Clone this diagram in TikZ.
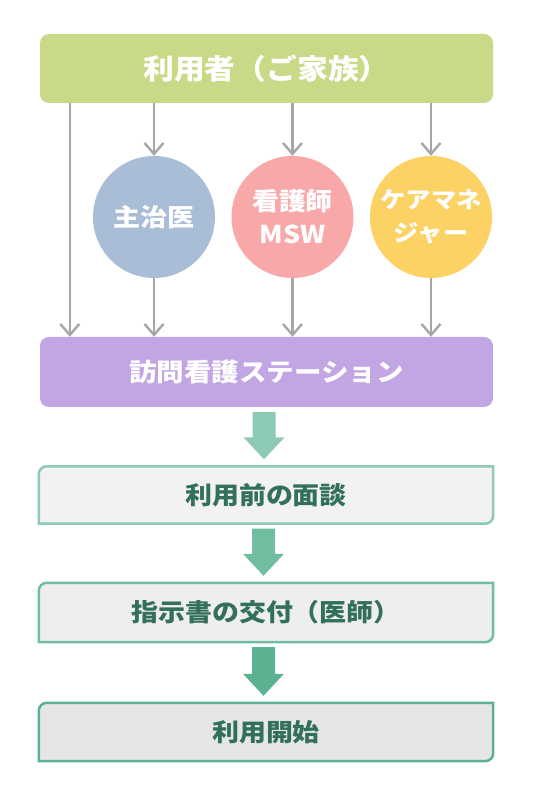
\documentclass[tikz,border=0pt]{standalone}
\usepackage{fontspec}
\setmainfont{Noto Sans CJK JP}[FakeStretch=1.1]
\usetikzlibrary{arrows.meta}
\usetikzlibrary{positioning}
\usetikzlibrary{calc}
\usetikzlibrary{backgrounds}

\definecolor{usergreen}{HTML}{C8DA88}
\definecolor{stationpurple}{HTML}{C2A5E3}
\definecolor{doctorblue}{HTML}{A9BDD7}
\definecolor{nursepink}{HTML}{F9A8AA}
\definecolor{careyellow}{HTML}{FCD265}
\definecolor{linkgray}{HTML}{A6A6A6}
\definecolor{stepgreenA}{HTML}{8CCAB3}
\definecolor{stepgreenB}{HTML}{70BE9F}
\definecolor{stepgreenC}{HTML}{5BB190}
\definecolor{stepfillA}{HTML}{F2F2F2}
\definecolor{stepfillB}{HTML}{EEEEEE}
\definecolor{stepfillC}{HTML}{E6E6E6}
\definecolor{steptext}{HTML}{33705A}

\newcommand{\stepframe}[3]{\filldraw[line width=2.5pt, draw=#2, fill=#3]
	(#1.south west) -- ([yshift=-8pt]#1.north west) arc[start angle=180, end angle=90, radius=8pt]
	-- (#1.north east) -- ([yshift=8pt]#1.south east) arc[start angle=0, end angle=-90, radius=8pt] -- cycle;}
\newcommand{\bigarrow}[3]{\fill[#3] let \p1 = ($(#1.south)+(-2.5pt,-5pt)$), \p2 = ($(#2.north)+(-2.5pt,7pt)$) in
	(\x1-11.5pt,\y1) -- (\x1+11.5pt,\y1) -- (\x1+11.5pt,\y2+22pt) -- (\x1+20.5pt,\y2+22pt)
	-- (\x1,\y2) -- (\x1-20.5pt,\y2+22pt) -- (\x1-11.5pt,\y2+22pt) -- cycle;}

\begin{document}
\begin{tikzpicture}[x=1pt,y=1pt]
				\tikzset{bar/.style = {shape=rectangle, rounded corners=9pt, minimum width=453pt, minimum height=69pt, text=white, font=\fontsize{25}{30}\selectfont\bfseries},
					member/.style = {shape=circle, minimum size=122pt, inner sep=0pt, text=white, align=center, font=\fontsize{24.5}{33}\selectfont\bfseries},
					stepbox/.style = {shape=rectangle, minimum width=454pt, minimum height=57pt, text=steptext, font=\fontsize{24.5}{28}\selectfont\bfseries},
					link/.style = {draw=linkgray, line width=2.4pt, -{Straight Barb[length=11pt, width=19pt]}}}
				\useasboundingbox (0,0) rectangle (533,800);
				
				\node[bar, fill=usergreen, font=\fontsize{28}{30}\selectfont\bfseries] (USER) at (266.5,731.5) {利用者（ご家族）};
				\node[member, fill=doctorblue] (DOCTOR) at (154,583) {主治医};
				\node[member, fill=nursepink] (NURSE) at (292.5,583) {看護師\\MSW};
				\node[member, fill=careyellow, font=\fontsize{23}{33}\selectfont\bfseries] (CARE) at (431,583) {ケアマネ\\ジャー};
				\node[bar, fill=stationpurple, minimum height=70pt] (STATION) at (266.5,428) {訪問看護ステーション};
				
				\node[stepbox] (TALK) at (266,305) {利用前の面談};
				\node[stepbox, minimum height=59pt] (ORDER) at (266,187.5) {指示書の交付（医師）};
				\node[stepbox, minimum height=58pt] (START) at (266,68) {利用開始};
				
				\begin{scope}[on background layer]
					\fill[white] (0,0) rectangle (533,800);
					\stepframe{TALK}{stepgreenA}{stepfillA}
					\stepframe{ORDER}{stepgreenB}{stepfillB}
					\stepframe{START}{stepgreenC}{stepfillC}
				\end{scope}
				
				\draw[link] ([xshift=30pt]USER.south west) -- ([xshift=30pt]STATION.north west);
				\foreach \who in {DOCTOR,NURSE,CARE} {
					\draw[link] (USER.south -| \who) -- (\who.north);
					\draw[link] (\who.south) -- (\who.south |- STATION.north);
				}
				
				\bigarrow{STATION}{TALK}{stepgreenA}
				\bigarrow{TALK}{ORDER}{stepgreenB}
				\bigarrow{ORDER}{START}{stepgreenC}
				
				\end{tikzpicture}
\end{document}
